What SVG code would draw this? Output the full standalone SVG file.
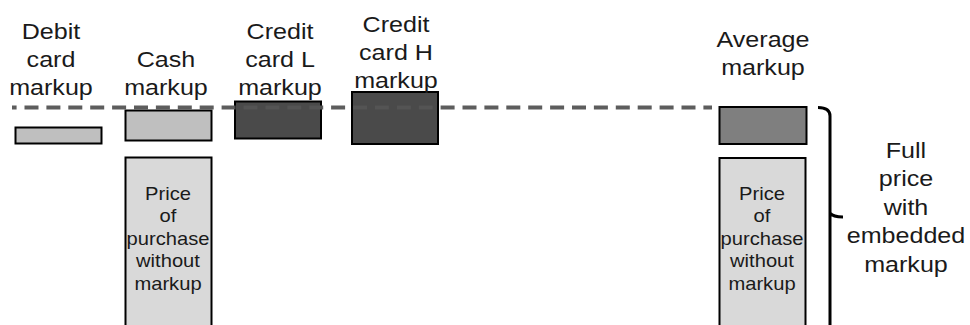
<svg xmlns="http://www.w3.org/2000/svg" width="970" height="325" viewBox="0 0 970 325">
<style>
  .hdr { font-family: "Liberation Sans", Arial, sans-serif; font-size: 22px; fill: #1a1a1a; text-anchor: middle; }
  .inner { font-family: "Liberation Sans", Arial, sans-serif; font-size: 18px; fill: #1a1a1a; text-anchor: middle; }
  .box { stroke: #000; stroke-width: 2; }
  .light { fill: #bfbfbf; }
  .dark { fill: #4a4a4a; }
  .mid { fill: #7f7f7f; }
  .price { fill: #d9d9d9; }
</style>
<rect width="970" height="325" fill="#fff"/>

<g id="debit">
  <rect class="box light" x="15.5" y="127.5" width="86" height="16"/>
  <g transform="translate(51,0) scale(1.14,1)">
    <text class="hdr" x="0" y="39">Debit</text>
    <text class="hdr" x="0" y="67">card</text>
    <text class="hdr" x="0" y="95">markup</text>
  </g>
</g>

<g id="cash">
  <rect class="box light" x="125.5" y="110.5" width="86" height="30"/>
  <g transform="translate(166,0) scale(1.14,1)">
    <text class="hdr" x="0" y="67">Cash</text>
    <text class="hdr" x="0" y="95">markup</text>
  </g>
</g>

<g id="cash-price">
  <rect class="box price" x="125.5" y="157.5" width="86" height="180"/>
  <g transform="translate(168,0) scale(1.12,1)">
    <text class="inner" x="0" y="200">Price</text>
    <text class="inner" x="0" y="222.5">of</text>
    <text class="inner" x="0" y="245">purchase</text>
    <text class="inner" x="0" y="267.5">without</text>
    <text class="inner" x="0" y="290">markup</text>
  </g>
</g>

<g id="credit-l">
  <rect class="box dark" x="235" y="101.5" width="86" height="37"/>
  <g transform="translate(280,0) scale(1.14,1)">
    <text class="hdr" x="0" y="39">Credit</text>
    <text class="hdr" x="0" y="67">card L</text>
    <text class="hdr" x="0" y="95">markup</text>
  </g>
</g>

<g id="credit-h">
  <rect class="box dark" x="352" y="92" width="86" height="52"/>
  <g transform="translate(396,0) scale(1.14,1)">
    <text class="hdr" x="0" y="32">Credit</text>
    <text class="hdr" x="0" y="60">card H</text>
    <text class="hdr" x="0" y="88">markup</text>
  </g>
</g>

<g id="average">
  <rect class="box mid" x="719.5" y="107" width="87" height="37"/>
  <g transform="translate(763,0) scale(1.14,1)">
    <text class="hdr" x="0" y="47">Average</text>
    <text class="hdr" x="0" y="75">markup</text>
  </g>
</g>

<g id="average-price">
  <rect class="box price" x="719.5" y="158" width="86" height="180"/>
  <g transform="translate(762,0) scale(1.12,1)">
    <text class="inner" x="0" y="200">Price</text>
    <text class="inner" x="0" y="222.5">of</text>
    <text class="inner" x="0" y="245">purchase</text>
    <text class="inner" x="0" y="267.5">without</text>
    <text class="inner" x="0" y="290">markup</text>
  </g>
</g>

<g id="full-price">
  <path d="M818,107.5 Q830,107.5 830,116 L830,330 M830,213 Q833,217 843,217" fill="none" stroke="#000" stroke-width="3"/>
  <g transform="translate(906,0) scale(1.14,1)">
    <text class="hdr" x="0" y="158">Full</text>
    <text class="hdr" x="0" y="186.5">price</text>
    <text class="hdr" x="0" y="215">with</text>
    <text class="hdr" x="0" y="243.5">embedded</text>
    <text class="hdr" x="0" y="272">markup</text>
  </g>
</g>

<g id="connectors">
  <line x1="12" y1="107.5" x2="712" y2="107.5" stroke="#555" stroke-width="4" stroke-dasharray="14 7.9" stroke-dashoffset="9.4" opacity="0.95"/>
</g>
</svg>
